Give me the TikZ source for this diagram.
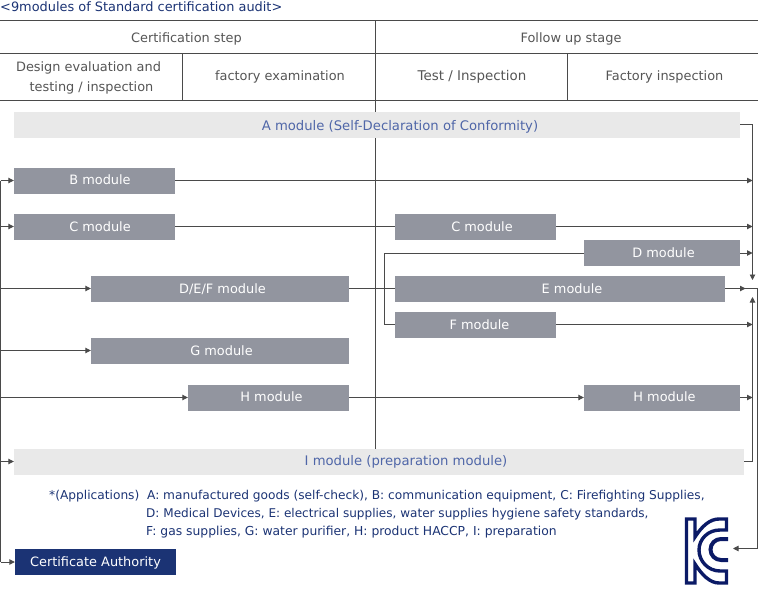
\documentclass[tikz,border=0pt]{standalone}
\usepackage{fontspec}
\setmainfont{DejaVu Sans}
\usepackage{xcolor}
\definecolor{head-gray}{HTML}{555555}
\definecolor{line-gray}{HTML}{4A4A4A}
\definecolor{box-gray}{HTML}{92959F}
\definecolor{pale-gray}{HTML}{E9E9E9}
\definecolor{mid-blue}{HTML}{4F66A8}
\definecolor{navy}{HTML}{1B3374}
\definecolor{kc-navy}{HTML}{0B1A66}
\usetikzlibrary{arrows.meta}
\tikzset{
  every node/.style={font=\fontsize{12.9}{15}\selectfont, inner sep=0pt},
  modbox/.style={fill=box-gray, text=white, minimum height=26pt, text height=12pt, text depth=2pt},
  palebox/.style={fill=pale-gray, text=mid-blue, minimum height=26pt, text height=10pt, text depth=2pt,
    font=\fontsize{13.2}{15}\selectfont},
  headtxt/.style={text=head-gray, anchor=base},
  apptxt/.style={text=navy, anchor=base west, font=\fontsize{12.2}{15}\selectfont},
  rule/.style={line-gray, line width=0.9pt},
  flow/.style={rule, -{Triangle[length=5.5pt,width=5.5pt]}},
}
\begin{document}
\begin{tikzpicture}[x=1pt, y=-1pt]
    \useasboundingbox (0,0) rectangle (758,589);
    % table rules
    \draw[rule] (0,20.5) -- (758,20.5);
    \draw[rule] (0,53.5) -- (758,53.5);
    \draw[rule] (0,100.5) -- (758,100.5);
    \draw[rule] (182.5,53.5) -- (182.5,100.5);
    \draw[rule] (567.5,53.5) -- (567.5,100.5);
    \draw[rule] (375.5,20.5) -- (375.5,449);
    % texts on top
    \node[text=navy, anchor=base west] (title) at (0,11) {<9modules of Standard certification audit>};
    \node[headtxt] (cert) at (186.5,42) {Certification step};
    \node[headtxt] (follow) at (571,42) {Follow up stage};
    \node[headtxt] (design) at (88.5,71) {Design evaluation and};
    \node[headtxt] (design2) at (91.5,91) {testing / inspection};
    \node[headtxt] (factory) at (280,80) {factory examination};
    \node[headtxt, font=\fontsize{13.4}{15}\selectfont] (test) at (472,80) {Test / Inspection};
    \node[headtxt] (insp) at (664.5,80) {Factory inspection};
    % modules
    \node[palebox, minimum width=726pt, text height=13pt] (ma) at (377,124.5) {\hspace*{46pt}A module (Self-Declaration of Conformity)};
    \node[modbox, minimum width=161pt, text height=10pt] (mb) at (94.5,180.5) {\hspace*{11pt}B module};
    \node[modbox, minimum width=161pt] (mc) at (94.5,226.5) {\hspace*{11pt}C module};
    \node[modbox, minimum width=161pt] (mc2) at (475.5,226.5) {\hspace*{13pt}C module};
    \node[modbox, minimum width=156pt, text height=10pt] (md) at (662,253) {\hspace*{3pt}D module};
    \node[modbox, minimum width=258pt] (mdef) at (220,288.5) {\hspace*{5pt}D/E/F module};
    \node[modbox, minimum width=330pt] (me) at (560,288.5) {\hspace*{24pt}E module};
    \node[modbox, minimum width=161pt] (mf) at (475.5,324.5) {\hspace*{8pt}F module};
    \node[modbox, minimum width=258pt] (mg) at (220,350.5) {\hspace*{3pt}G module};
    \node[modbox, minimum width=161pt, text height=10pt] (mh) at (268.5,397.5) {\hspace*{6pt}H module};
    \node[modbox, minimum width=156pt, text height=10pt] (mh2) at (662,397.5) {\hspace*{5pt}H module};
    \node[palebox, minimum width=730pt] (mi) at (379,461.5) {\hspace*{54pt}I module (preparation module)};
    \node[modbox, fill=navy, minimum width=161pt, text height=10pt] (auth) at (95.5,562) {Certificate Authority};
    % applications
    \node[apptxt] (app1) at (49,499) {*(Applications)\ \ A: manufactured goods (self-check), B: communication equipment, C: Firefighting Supplies,};
    \node[apptxt, font=\fontsize{12.05}{15}\selectfont] (app2) at (146,517) {D: Medical Devices, E: electrical supplies, water supplies hygiene safety standards,};
    \node[apptxt, font=\fontsize{12.35}{15}\selectfont] (app3) at (146,535) {F: gas supplies, G: water purifier, H: product HACCP, I: preparation};
    % free ends of the connectors
    \coordinate (lt) at (0.5,180.5);
    \coordinate (lb) at (0.5,562);
    \coordinate (in) at (752.5,280);
    \coordinate (up) at (752.5,297);
    \coordinate (out) at (757.5,288.5);
    \coordinate (kc) at (733,548.5);
    % left bus
    \draw[rule] (lt) -- (lb);
    \draw[flow] (lt) -- (mb.west);
    \draw[flow] (0.5,226.5) -- (mc.west);
    \draw[flow] (0.5,288.5) -- (mdef.west);
    \draw[flow] (0.5,350.5) -- (mg.west);
    \draw[flow] (0.5,397.5) -- (mh.west);
    \draw[flow] (0.5,461.5) -- (mi.west);
    \draw[flow] (lb) -- (auth.west);
    % middle
    \draw[rule] (mc.east) -- (mc2.west);
    \draw[rule] (mdef.east) -- (me.west);
    \draw[flow] (mh.east) -- (mh2.west);
    \draw[rule] (md.west) -- (384.5,253) -- (384.5,324.5) -- (mf.west);
    % right side
    \draw[flow] (ma.east) -| (in);
    \draw[flow] (mb.east) -- (752.5,180.5);
    \draw[flow] (mc2.east) -- (752.5,226.5);
    \draw[flow] (md.east) -- (752.5,253);
    \draw[flow] (mf.east) -- (752.5,324.5);
    \draw[flow] (mh2.east) -- (752.5,397.5);
    \draw[flow] (mi.east) -| (up);
    \draw[flow] (me.east) -- (745.5,288.5);
    \draw[flow] (me.east) -- (out) -- (757.5,548.5) -- (kc);
    % KC mark
    \draw[kc-navy, fill=white, line width=3.4pt, line join=miter]
      (686.5,519) -- (695,519) -- (695,537) .. controls (702,526) and (710,519) .. (719,519)
      -- (726.5,519) -- (726.5,530) -- (720,530) .. controls (708,530) and (699,539) .. (699,550)
      .. controls (699,561) and (708,571) .. (720,571) -- (726.5,571) -- (726.5,583)
      -- (719,583) .. controls (710,583) and (702,575) .. (695,564) -- (695,583) -- (686.5,583) -- cycle;
    \draw[kc-navy, line width=4pt] (728,539) -- (721,539) arc[start angle=270, end angle=90, radius=10.5] -- (728,560);
  \end{tikzpicture}
\end{document}
